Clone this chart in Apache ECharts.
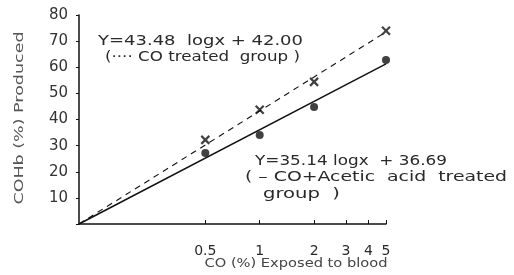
<!DOCTYPE html>
<html>
<head>
<meta charset="utf-8">
<script src="https://cdn.jsdelivr.net/npm/echarts@6/dist/echarts.min.js"></script>
<style>
html, body { margin: 0; padding: 0; background: #fff; }
#chart { width: 514px; height: 275px; }
</style>
</head>
<body>
<div id="chart"></div>
<script>
// CO exposure (%) for the measured points
var doses = [0.5, 1, 2, 5];
// COHb produced (%) - CO treated group (x markers)
var coTreated = [32.2, 43.7, 54.4, 74.0];
// COHb produced (%) - CO + acetic acid group (dots)
var coAcetic = [27.2, 34.1, 44.8, 62.8];
// regression lines, end points
var fitX = [0.1, 5];
var fitCo = [0, 73.5];
var fitAcetic = [0, 61.3];
var xTicks = [0.5, 1, 2, 3, 4, 5];
var yTicks = [10, 20, 30, 40, 50, 60, 70, 80];

var fontFam = "DejaVu Sans";
var ink = "#111";
var textInk = "#2a2a2a";

function pairs(xs, ys) {
    var out = [];
    for (var i = 0; i < xs.length; i++) out.push([xs[i], ys[i]]);
    return out;
}

// measure a string so it can be stretched to the width seen in the scan
var measureCtx = document.createElement("canvas").getContext("2d");
function label(str, x, y, width, size, opts) {
    opts = opts || {};
    measureCtx.font = size + "px " + fontFam;
    var w = measureCtx.measureText(str).width;
    return {
        type: "text",
        x: x,
        y: y,
        rotation: opts.rotation || 0,
        scaleX: width / w,
        style: {
            text: str,
            x: 0,
            y: 0,
            fill: opts.color || textInk,
            font: size + "px " + fontFam,
            align: opts.align || "left",
            verticalAlign: opts.verticalAlign || "top"
        }
    };
}

var crossPath = "path://M0,0 L10,10 M10,0 L0,10 M0,0 L10,10";

var myChart = echarts.init(document.getElementById("chart"));
var option = {
    animation: false,
    grid: { left: 79, right: 128, top: 15, bottom: 51 },
    xAxis: {
        type: "log",
        logBase: 10,
        min: 0.1,
        max: 5,
        axisLine: { lineStyle: { color: ink, width: 1.5 } },
        axisTick: { inside: true, length: 4, customValues: xTicks, lineStyle: { color: ink } },
        axisLabel: {
            customValues: xTicks,
            color: textInk,
            fontFamily: fontFam,
            fontSize: 14,
            margin: 12,
            padding: [8, 0, 0, 0]
        },
        splitLine: { show: false },
        minorTick: { show: false }
    },
    yAxis: {
        type: "value",
        min: 0,
        max: 80,
        interval: 10,
        axisLine: { show: true, lineStyle: { color: ink, width: 1.5 } },
        axisTick: { show: true, length: 3, lineStyle: { color: ink } },
        axisLabel: {
            color: "#333",
            fontFamily: fontFam,
            fontSize: 15,
            margin: 11,
            formatter: function (v) { return yTicks.indexOf(v) >= 0 ? String(v) : ""; }
        },
        splitLine: { show: false }
    },
    series: [
        {
            name: "CO fit",
            type: "line",
            data: pairs(fitX, fitCo),
            showSymbol: false,
            lineStyle: { color: ink, width: 1.1, type: [6, 5] }
        },
        {
            name: "CO+acetic fit",
            type: "line",
            data: pairs(fitX, fitAcetic),
            showSymbol: false,
            lineStyle: { color: ink, width: 1.5 }
        },
        {
            name: "CO treated",
            type: "scatter",
            data: pairs(doses, coTreated),
            symbol: crossPath,
            symbolSize: 8,
            itemStyle: { color: "none", borderColor: ink, borderWidth: 2.2 }
        },
        {
            name: "CO+Acetic acid",
            type: "scatter",
            data: pairs(doses, coAcetic),
            symbol: "circle",
            symbolSize: 8,
            itemStyle: { color: ink }
        }
    ],
    graphic: [
        label("Y=43.48  logx + 42.00", 98, 34, 205, 14),
        label("(···· CO treated  group )", 105, 50, 195, 14),
        label("Y=35.14 logx  + 36.69", 255, 154, 192, 14),
        label("( – CO+Acetic  acid  treated", 245, 170, 262, 14),
        label("group  )", 263, 187, 77, 14),
        label("CO (%) Exposed to blood", 296, 264, 183, 13, { align: "center", verticalAlign: "middle", color: "#444" }),
        label("COHb (%) Produced", 20, 118, 173, 13, { align: "center", verticalAlign: "middle", color: "#555", rotation: Math.PI / 2 })
    ]
};
myChart.setOption(option);
</script>
</body>
</html>
